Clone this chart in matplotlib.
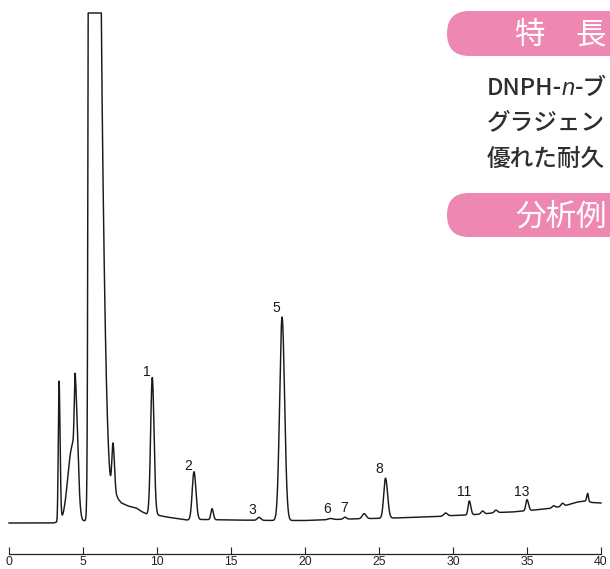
import numpy as np
import matplotlib
matplotlib.use("Agg")
import matplotlib.pyplot as plt
from matplotlib import font_manager
from matplotlib.patches import FancyBboxPatch

# ---- chromatogram data -------------------------------------------------
# eluting peaks: retention time (min), height, front / tail widths (min)
peak_time = [3.38, 4.28, 4.48, 5.61, 5.90, 7.03, 9.68, 12.50, 13.72, 16.90,
             18.45, 21.70, 22.70, 24.00, 25.44, 29.50, 31.10, 32.00, 32.90,
             35.00, 36.80, 37.40, 39.10]
peak_height = [140, 75, 128, 20000, 694, 53, 137, 48, 11, 3,
               203.5, 1.2, 2, 5, 40, 3, 14, 3, 2.5,
               11, 2, 3, 8]
sigma_front = [0.05, 0.30, 0.07, 0.10, 0.10, 0.08, 0.11, 0.12, 0.08, 0.12,
               0.16, 0.15, 0.10, 0.13, 0.12, 0.12, 0.08, 0.10, 0.10,
               0.08, 0.10, 0.10, 0.06]
sigma_tail = [0.07, 0.12, 0.165, 0.18, 0.372, 0.10, 0.12, 0.13, 0.09, 0.12,
              0.17, 0.15, 0.10, 0.13, 0.14, 0.12, 0.10, 0.10, 0.10,
              0.10, 0.10, 0.10, 0.05]

# baseline drift (min, signal)
base_time = [0.0, 3.0, 3.3, 5.0, 6.0, 6.8, 7.3, 7.6, 8.05, 8.6, 8.95, 9.3,
             10.0, 10.65, 12.0, 13.0, 15.0, 18.0, 20.0, 21.0, 22.0, 23.0,
             24.5, 26.0, 27.0, 28.0, 29.0, 30.0, 31.0, 32.0, 33.0, 34.0,
             35.5, 36.5, 37.5, 38.4, 39.0, 39.4, 40.0]
base_level = [-1, -1, 0, 1, 3, 15, 24, 19, 16, 14, 10.5, 8,
              7, 5, 2, 2.5, 2, 1.5, 1.5, 2, 2.5, 3,
              3.5, 4, 4.5, 5, 5.5, 6.5, 7, 8, 9.5, 10,
              12, 13.5, 16, 20, 21, 19.5, 19]

# recorder full scale (pen limit)
saturation = 509

# numbered peaks
label_text = ["1", "2", "3", "5", "6", "7", "8", "11", "13"]
label_time = [9.68, 12.50, 16.90, 18.45, 21.70, 22.70, 25.44, 31.10, 35.00]

x_ticks = [0, 5, 10, 15, 20, 25, 30, 35, 40]

# ---- fonts -------------------------------------------------------------
def first_font(names):
    for n in names:
        try:
            font_manager.findfont(font_manager.FontProperties(family=n),
                                  fallback_to_default=False)
            return n
        except ValueError:
            pass
    return "DejaVu Sans"

jp_font = first_font(["Noto Sans CJK JP", "Noto Sans CJK SC"])
tick_font = first_font(["Liberation Sans Narrow", "Liberation Sans"])
label_font = first_font(["Liberation Sans", "DejaVu Sans"])

# ---- build trace ---------------------------------------------------------
t = np.linspace(0, 40, 8001)
signal = np.interp(t, base_time, base_level)
for c, h, sf, st in zip(peak_time, peak_height, sigma_front, sigma_tail):
    s = np.where(t < c, sf, st)
    signal = signal + h * np.exp(-0.5 * ((t - c) / s) ** 2)
trace = np.minimum(signal, saturation)

# ---- figure ------------------------------------------------------------
W, H, DPI = 610, 569, 100
fig = plt.figure(figsize=(W / DPI, H / DPI), dpi=DPI)
fig.patch.set_facecolor("white")

ax_left, ax_right, ax_top, ax_bottom = 9, 601, 11, 554
ax = fig.add_axes([ax_left / W, (H - ax_bottom) / H,
                   (ax_right - ax_left) / W, (ax_bottom - ax_top) / H])
ax.set_xlim(0, 40)
ax.set_ylim(-32, 511)
ax.set_facecolor("none")

ax.plot(t, trace, color="#1a1a1a", lw=1.05, clip_on=False,
        solid_joinstyle="round")

for sp in ("left", "right", "top"):
    ax.spines[sp].set_visible(False)
ax.spines["bottom"].set_linewidth(0.9)
ax.spines["bottom"].set_color("#222222")
ax.set_yticks([])
ax.set_xticks(x_ticks)
ax.set_xticklabels([str(v) for v in x_ticks])
ax.tick_params(axis="x", direction="in", length=5, width=0.8,
               color="#222222", pad=1.5, labelsize=8.8,
               labelcolor="#222222")
for lab in ax.get_xticklabels():
    lab.set_fontfamily(tick_font)

# peak numbers, placed just above each apex
label_offsets = {"1": (-5, 6), "2": (-6, 6), "3": (-7, 7), "5": (-6, 9),
                 "6": (-3, 9), "7": (-1, 9), "8": (-6, 9), "11": (-5, 9),
                 "13": (-5, 8)}
for txt, tm in zip(label_text, label_time):
    apex = np.interp(tm, t, trace)
    dx, dy = label_offsets[txt]
    ax.annotate(txt, xy=(tm, apex), xytext=(dx * 0.72, dy * 0.72),
                textcoords="offset points", ha="center", va="center",
                fontsize=10, family=label_font, color="#1a1a1a")

# ---- side panel: headings and text -------------------------------------
inch = fig.dpi_scale_trans
pink = "#ee87b1"


def px(x, y):
    return x / DPI, (H - y) / DPI


for top, bottom in ((11, 56), (193, 237)):
    x0, y0 = px(447, bottom)
    box = FancyBboxPatch((x0, y0), 2.2, (bottom - top) / DPI,
                         boxstyle="round,pad=0,rounding_size=%.3f"
                         % ((bottom - top) / DPI / 2),
                         transform=inch, facecolor=pink, edgecolor="none")
    fig.patches.append(box)

fig.text(*px(515, 35), "特\u3000長", transform=inch, ha="left", va="center",
         fontsize=22, color="white", family=[jp_font, "DejaVu Sans"])
fig.text(*px(515, 217), "分析例", transform=inch, ha="left", va="center",
         fontsize=22, color="white", family=[jp_font, "DejaVu Sans"])

renderer = fig.canvas.get_renderer()
body_color = "#2e2e2e"
body_size = 17


def write_line(x, y, pieces):
    for text, style in pieces:
        tx = fig.text(*px(x, y), text, transform=inch, ha="left",
                      va="center", fontsize=body_size, color=body_color,
                      family=[jp_font, "DejaVu Sans"] if style == "normal"
                      else [label_font, "DejaVu Sans"],
                      style=style, weight="medium")
        x += tx.get_window_extent(renderer).width


write_line(486.5, 88, [("DNPH-", "normal"), ("n", "italic"), ("-ブ", "normal")])
write_line(486.5, 123, [("グラジェン", "normal")])
write_line(486.5, 159, [("優れた耐久", "normal")])

fig.savefig("out.png", dpi=DPI, facecolor="white")
